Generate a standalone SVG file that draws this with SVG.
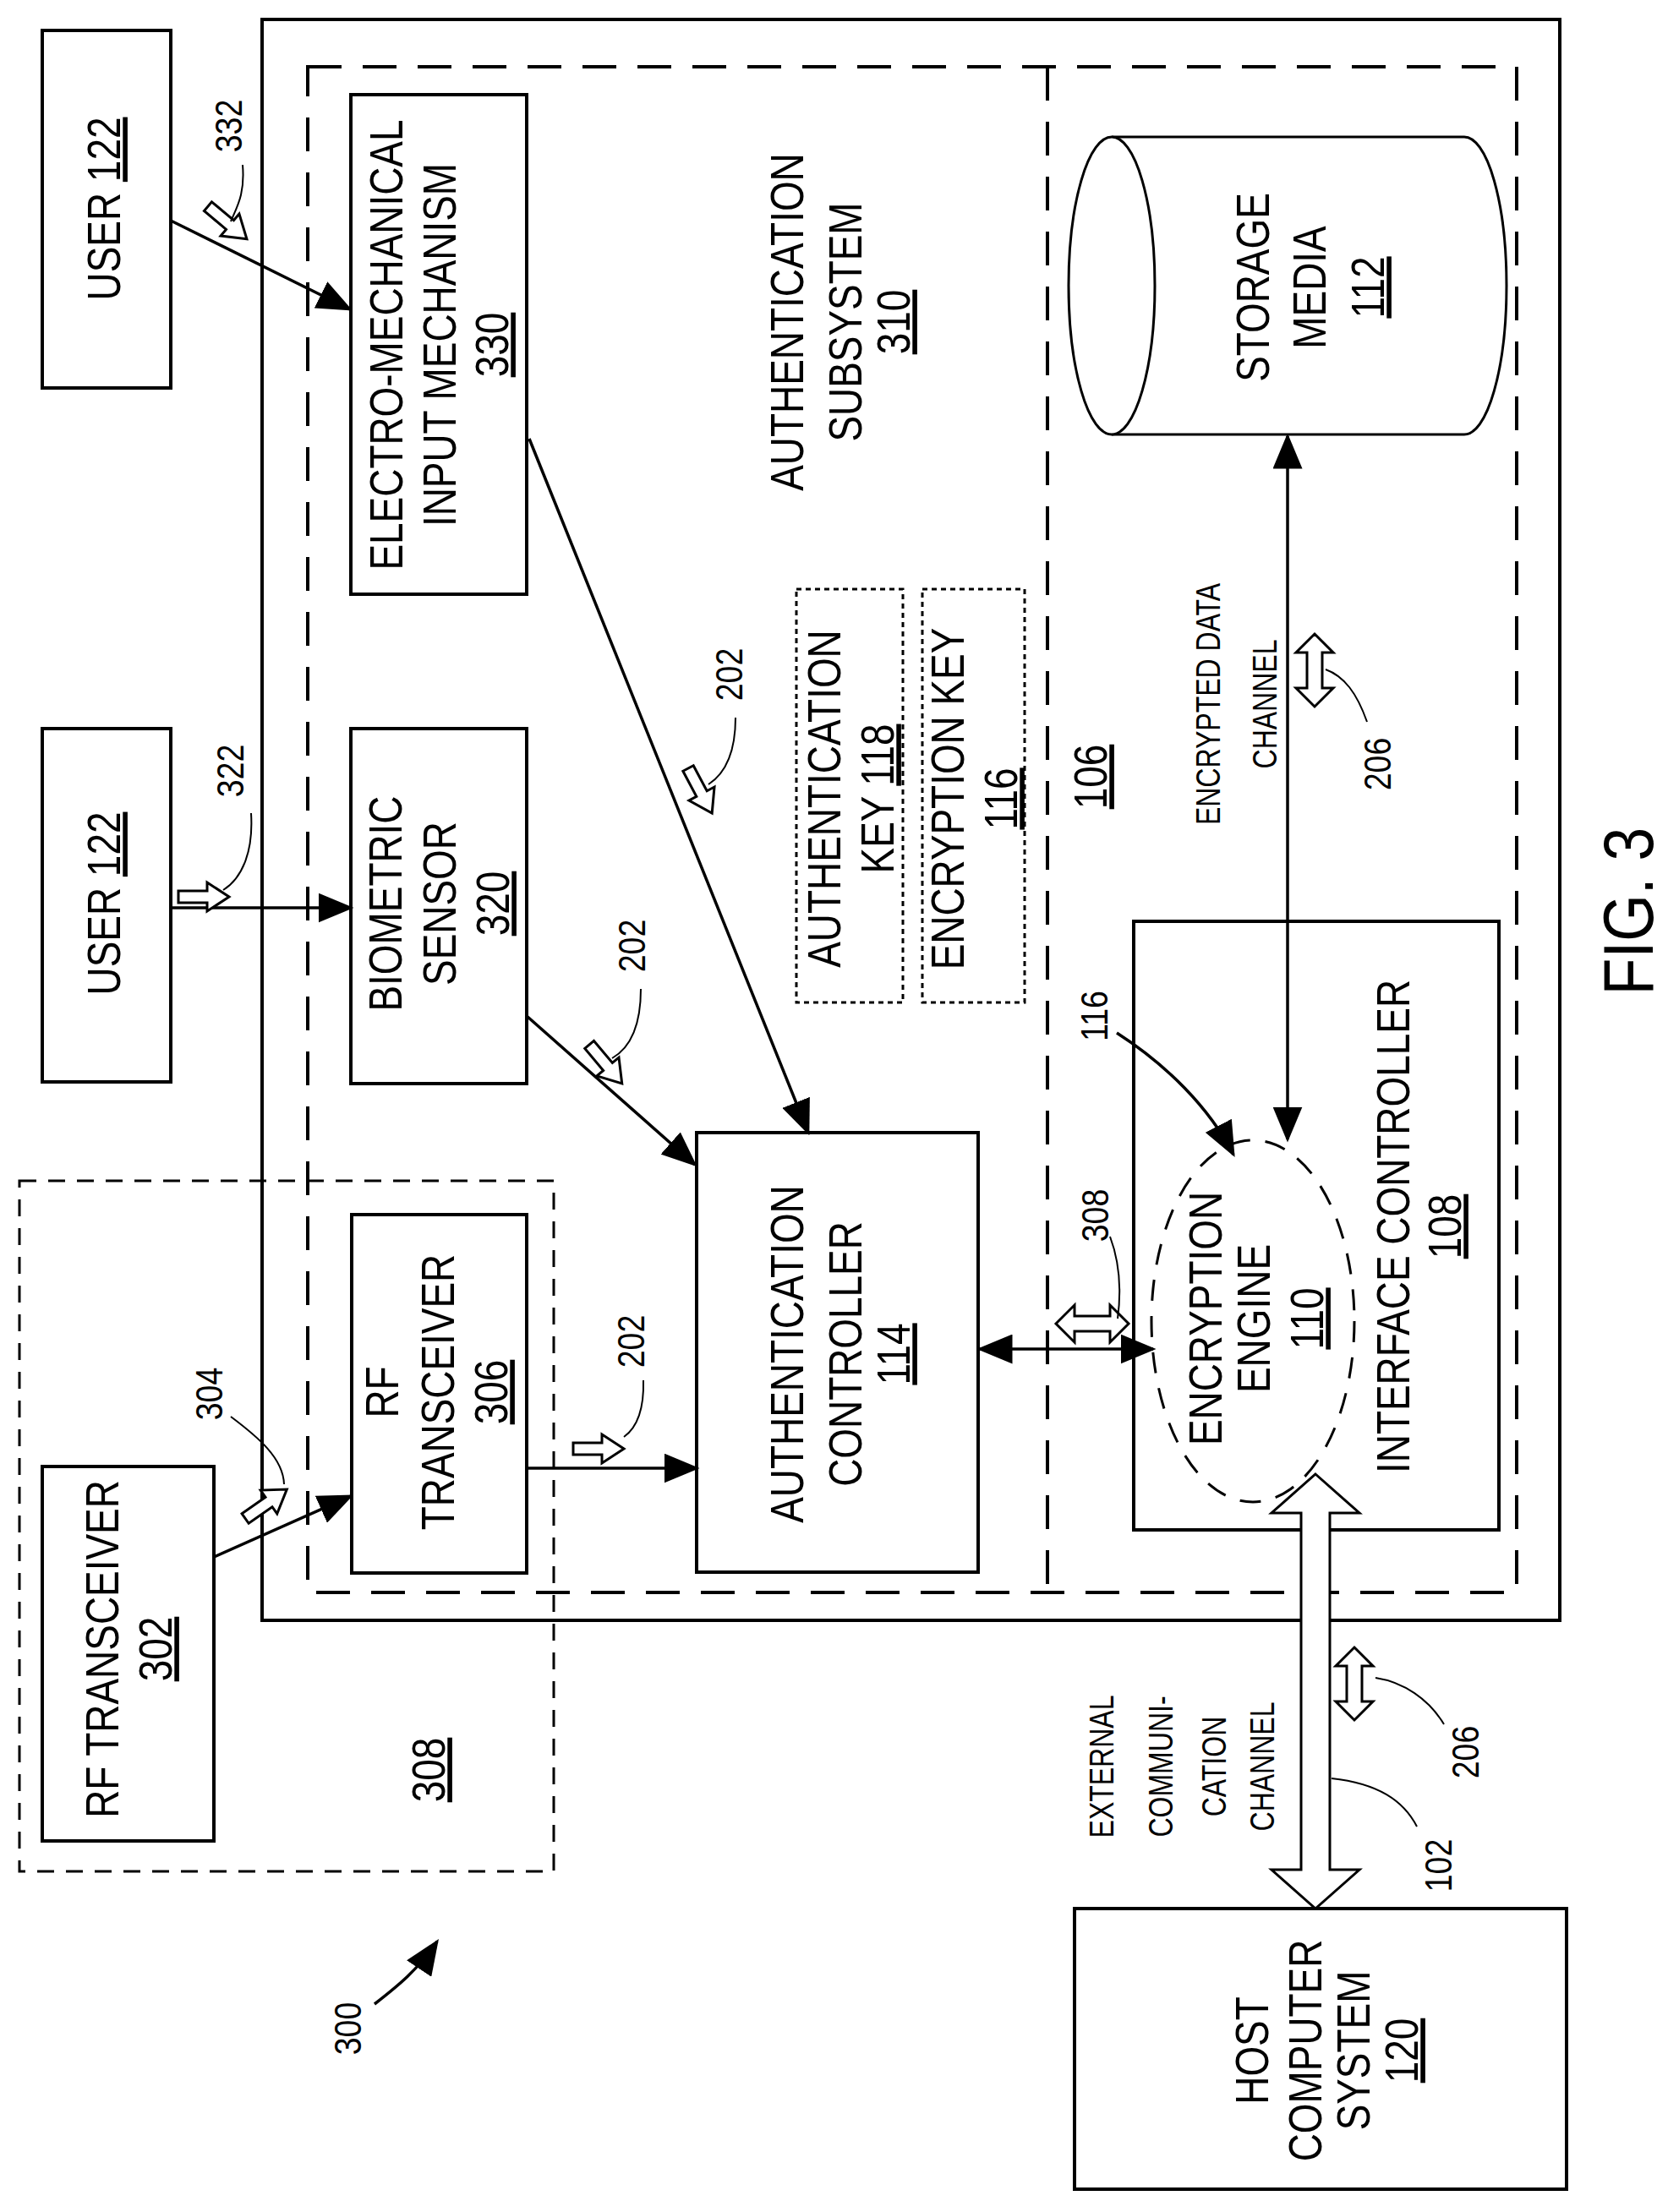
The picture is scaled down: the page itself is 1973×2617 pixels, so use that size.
<svg xmlns="http://www.w3.org/2000/svg" width="1973" height="2617" viewBox="0 0 1973 2617">
<style>
text{font-family:"Liberation Sans",Arial,sans-serif;fill:#000;text-anchor:middle}
.t{font-size:56px}
.s{font-size:44px}
.m{font-size:40px}
.f{font-size:84px}
.u{text-decoration:underline}
.box{fill:#fff;stroke:#000;stroke-width:4}
.ln{fill:none;stroke:#000;stroke-width:3.5}
.ld{fill:none;stroke:#000;stroke-width:2}
.ho{fill:#fff;stroke:#000;stroke-width:3;stroke-linejoin:miter}
</style>
<defs>
<marker id="ah" markerWidth="12" markerHeight="10" refX="11" refY="5" orient="auto-start-reverse" markerUnits="strokeWidth"><path d="M0,0 L12,5 L0,10 z" fill="#000"/></marker>
<path id="ha" d="M-34,-7 L0,-7 L0,-17 L26,0 L0,17 L0,7 L-34,7 z"/>
<path id="hd" d="M-43,0 L-21,-22 L-21,-9 L21,-9 L21,-22 L43,0 L21,22 L21,9 L-21,9 L-21,22 z"/>
</defs>
<rect width="1973" height="2617" fill="#fff"/>

<g id="containers">
<rect x="310" y="23" width="1535" height="1894" fill="none" stroke="#000" stroke-width="4"/>
<rect x="364" y="79" width="1430" height="1805" fill="none" stroke="#000" stroke-width="4" stroke-dasharray="40 25"/>
<line x1="1239" y1="79" x2="1239" y2="1884" stroke="#000" stroke-width="4" stroke-dasharray="40 25"/>
<rect x="23" y="1397" width="632" height="817" fill="none" stroke="#000" stroke-width="3" stroke-dasharray="20 14"/>
<text class="t" transform="translate(930 381) rotate(-90) scale(0.82 1)" y="20">AUTHENTICATION</text>
<text class="t" transform="translate(999 381) rotate(-90) scale(0.82 1)" y="20">SUBSYSTEM</text>
<text class="t u" transform="translate(1056 381) rotate(-90) scale(0.82 1)" y="20">310</text>
<text class="t u" transform="translate(1289 919) rotate(-90) scale(0.82 1)" y="20">106</text>
<text class="t u" transform="translate(506 2094) rotate(-90) scale(0.82 1)" y="20">308</text>
</g>

<g id="user1"><rect class="box" x="50" y="36" width="152" height="423"/>
<text class="t" transform="translate(122 247) rotate(-90) scale(0.82 1)" y="20">USER <tspan class="u">122</tspan></text></g>
<g id="user2"><rect class="box" x="50" y="862" width="152" height="418"/>
<text class="t" transform="translate(122 1069) rotate(-90) scale(0.82 1)" y="20">USER <tspan class="u">122</tspan></text></g>
<g id="rf302"><rect class="box" x="50" y="1735" width="203" height="443"/>
<text class="t" transform="translate(120 1951) rotate(-90) scale(0.82 1)" y="20">RF TRANSCEIVER</text>
<text class="t u" transform="translate(183 1951) rotate(-90) scale(0.82 1)" y="20">302</text></g>
<g id="electro"><rect class="box" x="415" y="112" width="208" height="591"/>
<text class="t" transform="translate(456 408) rotate(-90) scale(0.82 1)" y="20">ELECTRO-MECHANICAL</text>
<text class="t" transform="translate(519 408) rotate(-90) scale(0.82 1)" y="20">INPUT MECHANISM</text>
<text class="t u" transform="translate(581 408) rotate(-90) scale(0.82 1)" y="20">330</text></g>
<g id="bio"><rect class="box" x="415" y="862" width="208" height="420"/>
<text class="t" transform="translate(455 1069) rotate(-90) scale(0.82 1)" y="20">BIOMETRIC</text>
<text class="t" transform="translate(519 1069) rotate(-90) scale(0.82 1)" y="20">SENSOR</text>
<text class="t u" transform="translate(582 1069) rotate(-90) scale(0.82 1)" y="20">320</text></g>
<g id="rf306"><rect class="box" x="416" y="1437" width="207" height="424"/>
<text class="t" transform="translate(451 1647) rotate(-90) scale(0.82 1)" y="20">RF</text>
<text class="t" transform="translate(517 1647) rotate(-90) scale(0.82 1)" y="20">TRANSCEIVER</text>
<text class="t u" transform="translate(580 1647) rotate(-90) scale(0.82 1)" y="20">306</text></g>
<g id="authctrl"><rect class="box" x="824" y="1340" width="333" height="520"/>
<text class="t" transform="translate(930 1602) rotate(-90) scale(0.82 1)" y="20">AUTHENTICATION</text>
<text class="t" transform="translate(999 1602) rotate(-90) scale(0.82 1)" y="20">CONTROLLER</text>
<text class="t u" transform="translate(1056 1602) rotate(-90) scale(0.82 1)" y="20">114</text></g>
<g id="authkey"><rect x="942" y="697" width="126" height="489" fill="none" stroke="#000" stroke-width="3" stroke-dasharray="6 5"/>
<text class="t" transform="translate(974 945) rotate(-90) scale(0.82 1)" y="20">AUTHENTICATION</text>
<text class="t" transform="translate(1037 945) rotate(-90) scale(0.82 1)" y="20">KEY <tspan class="u">118</tspan></text></g>
<g id="enckey"><rect x="1091" y="697" width="121" height="489" fill="none" stroke="#000" stroke-width="3" stroke-dasharray="6 5"/>
<text class="t" transform="translate(1120 945) rotate(-90) scale(0.82 1)" y="20">ENCRYPTION KEY</text>
<text class="t u" transform="translate(1183 945) rotate(-90) scale(0.82 1)" y="20">116</text></g>
<g id="storage">
<path d="M1315,162 L1732,162 A50,176 0 0 1 1732,514 L1315,514" fill="#fff" stroke="#000" stroke-width="3"/>
<ellipse cx="1315" cy="338" rx="51" ry="176" fill="#fff" stroke="#000" stroke-width="3"/>
<text class="t" transform="translate(1481 340) rotate(-90) scale(0.82 1)" y="20">STORAGE</text>
<text class="t" transform="translate(1548 340) rotate(-90) scale(0.82 1)" y="20">MEDIA</text>
<text class="t u" transform="translate(1617 340) rotate(-90) scale(0.82 1)" y="20">112</text></g>
<g id="iface"><rect class="box" x="1341" y="1090" width="432" height="720"/>
<text class="t" transform="translate(1647 1451) rotate(-90) scale(0.82 1)" y="20">INTERFACE CONTROLLER</text>
<text class="t u" transform="translate(1708 1451) rotate(-90) scale(0.82 1)" y="20">108</text></g>
<g id="encengine"><ellipse cx="1482" cy="1563" rx="120" ry="214" fill="none" stroke="#000" stroke-width="3" stroke-dasharray="25 18"/>
<text class="t" transform="translate(1425 1560) rotate(-90) scale(0.82 1)" y="20">ENCRYPTION</text>
<text class="t" transform="translate(1482 1560) rotate(-90) scale(0.82 1)" y="20">ENGINE</text>
<text class="t u" transform="translate(1545 1560) rotate(-90) scale(0.82 1)" y="20">110</text></g>
<g id="host"><rect class="box" x="1271" y="2258" width="582" height="332"/>
<text class="t" transform="translate(1480 2426) rotate(-90) scale(0.82 1)" y="20">HOST</text>
<text class="t" transform="translate(1543 2426) rotate(-90) scale(0.82 1)" y="20">COMPUTER</text>
<text class="t" transform="translate(1600 2426) rotate(-90) scale(0.82 1)" y="20">SYSTEM</text>
<text class="t u" transform="translate(1657 2426) rotate(-90) scale(0.82 1)" y="20">120</text></g>

<g id="connectors">
<line class="ln" x1="202" y1="261" x2="414" y2="366" marker-end="url(#ah)"/>
<line class="ln" x1="202" y1="1074" x2="415" y2="1074" marker-end="url(#ah)"/>
<line class="ln" x1="253" y1="1842" x2="415" y2="1770" marker-end="url(#ah)"/>
<line class="ln" x1="623" y1="1737" x2="824" y2="1737" marker-end="url(#ah)"/>
<line class="ln" x1="623" y1="1202" x2="822" y2="1378" marker-end="url(#ah)"/>
<line class="ln" x1="626" y1="519" x2="956" y2="1340" marker-end="url(#ah)"/>
<line class="ln" x1="1159" y1="1596" x2="1364" y2="1596" marker-start="url(#ah)" marker-end="url(#ah)"/>
<line class="ln" x1="1523" y1="516" x2="1523" y2="1348" marker-start="url(#ah)" marker-end="url(#ah)"/>
<path class="ho" d="M1556,1744 L1608,1790 L1573,1790 L1573,2212 L1608,2212 L1556,2258 L1504,2212 L1539,2212 L1539,1790 L1504,1790 z"/>
<use href="#ha" class="ho" transform="translate(272 266) rotate(40)"/>
<use href="#ha" class="ho" transform="translate(245 1061)"/>
<use href="#ha" class="ho" transform="translate(318 1777) rotate(-35)"/>
<use href="#ha" class="ho" transform="translate(712 1714)"/>
<use href="#ha" class="ho" transform="translate(719 1262) rotate(50)"/>
<use href="#ha" class="ho" transform="translate(830 939) rotate(62)"/>
<use href="#hd" class="ho" transform="translate(1292 1566)"/>
<use href="#hd" class="ho" transform="translate(1555 793) rotate(90)"/>
<use href="#hd" class="ho" transform="translate(1602 1992) rotate(90)"/>
<path class="ld" d="M287,195 C290,230 280,245 273,262"/>
<path class="ld" d="M297,962 C300,1010 285,1040 264,1053"/>
<path class="ld" d="M273,1676 C305,1700 335,1725 336,1756"/>
<path class="ld" d="M761,1633 C762,1670 752,1690 738,1700"/>
<path class="ld" d="M758,1170 C758,1215 745,1240 724,1252"/>
<path class="ld" d="M870,849 C870,890 858,915 838,928"/>
<path class="ld" d="M1313,1463 C1325,1495 1326,1530 1322,1560"/>
<path class="ld" d="M1617,854 C1605,820 1590,800 1568,792"/>
<path class="ld" d="M1708,2040 C1690,2010 1660,1990 1627,1985"/>
<path class="ld" d="M1676,2161 C1660,2130 1630,2110 1575,2104"/>
<path class="ln" d="M1321,1222 C1380,1260 1430,1310 1459,1366" marker-end="url(#ah)"/>
<path class="ln" d="M443,2371 C470,2350 495,2330 517,2297" marker-end="url(#ah)"/>
</g>

<g id="labels">
<text class="s" transform="translate(270 149) rotate(-90) scale(0.85 1)" y="16">332</text>
<text class="s" transform="translate(272 912) rotate(-90) scale(0.85 1)" y="16">322</text>
<text class="s" transform="translate(247 1649) rotate(-90) scale(0.85 1)" y="16">304</text>
<text class="s" transform="translate(746 1587) rotate(-90) scale(0.85 1)" y="16">202</text>
<text class="s" transform="translate(747 1119) rotate(-90) scale(0.85 1)" y="16">202</text>
<text class="s" transform="translate(862 798) rotate(-90) scale(0.85 1)" y="16">202</text>
<text class="s" transform="translate(1294 1202) rotate(-90) scale(0.85 1)" y="16">116</text>
<text class="s" transform="translate(1295 1438) rotate(-90) scale(0.85 1)" y="16">308</text>
<text class="s" transform="translate(1629 904) rotate(-90) scale(0.85 1)" y="16">206</text>
<text class="s" transform="translate(1733 2073) rotate(-90) scale(0.85 1)" y="16">206</text>
<text class="s" transform="translate(1701 2207) rotate(-90) scale(0.85 1)" y="16">102</text>
<text class="s" transform="translate(411 2400) rotate(-90) scale(0.85 1)" y="16">300</text>
<text class="m" transform="translate(1429 833) rotate(-90) scale(0.8 1)" y="14">ENCRYPTED DATA</text>
<text class="m" transform="translate(1496 833) rotate(-90) scale(0.8 1)" y="14">CHANNEL</text>
<text class="m" transform="translate(1303 2090) rotate(-90) scale(0.8 1)" y="14">EXTERNAL</text>
<text class="m" transform="translate(1373 2090) rotate(-90) scale(0.8 1)" y="14">COMMUNI-</text>
<text class="m" transform="translate(1436 2090) rotate(-90) scale(0.8 1)" y="14">CATION</text>
<text class="m" transform="translate(1493 2090) rotate(-90) scale(0.8 1)" y="14">CHANNEL</text>
<text class="f" transform="translate(1925 1078) rotate(-90) scale(0.85 1)" y="30">FIG. 3</text>
</g>
</svg>
